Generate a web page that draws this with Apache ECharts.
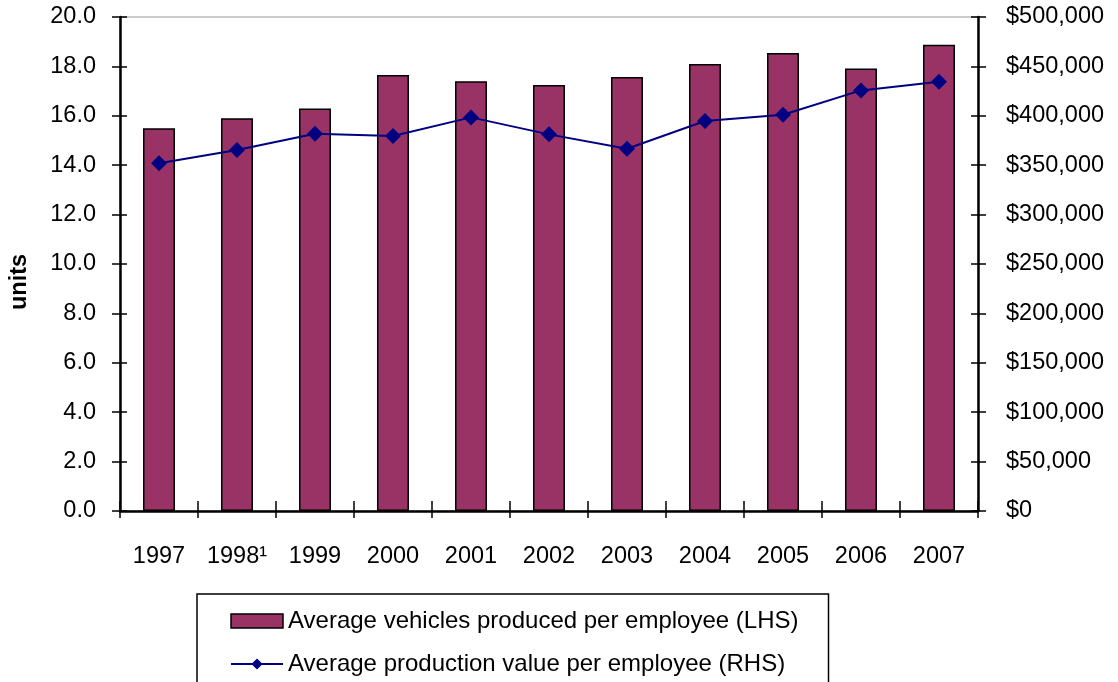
<!DOCTYPE html>
<html><head><meta charset="utf-8">
<script src="https://cdn.jsdelivr.net/npm/echarts@6/dist/echarts.min.js"></script>
<style>html,body{margin:0;padding:0;background:#fff}#c{width:1118px;height:682px}</style>
</head><body><div id="c"></div>
<script>
const categories = ['1997','1998\u00b9','1999','2000','2001','2002','2003','2004','2005','2006','2007'];
const vehiclesPerEmployee = [15.5, 15.9, 16.3, 17.65, 17.4, 17.25, 17.57, 18.1, 18.54, 17.92, 18.88];
const valuePerEmployee = [352000, 365400, 381800, 379500, 398400, 381200, 366700, 394700, 401100, 425700, 434500];
const leftTicks = {min: 0, max: 20, interval: 2};
const rightTicks = {min: 0, max: 500000, interval: 50000};

const chart = echarts.init(document.getElementById('c'));
const font = 'Liberation Sans, Arial, sans-serif';
const FS = 23.5;
const tickStyle = {color: '#000', width: 1.5};
chart.setOption({
  animation: false,
  textStyle: {fontFamily: font},
  grid: {left: 120, right: 140, top: 17, bottom: 171, show: true, borderColor: '#999', borderWidth: 1,
    containLabel: false, outerBoundsMode: 'none'},
  legend: {
    orient: 'vertical', left: 197, top: 594, height: 200,
    padding: [15, 30, 40, 33], itemGap: 19,
    borderColor: '#000', borderWidth: 1.5,
    itemWidth: 52, itemHeight: 14,
    textStyle: {fontSize: 24, color: '#000', fontFamily: font},
    data: [
      {name: 'Average vehicles produced per employee (LHS)', icon: 'rect', itemStyle: {borderColor: '#000', borderWidth: 1.5}},
      {name: 'Average production value per employee (RHS)'}
    ]
  },
  xAxis: [
    {
      type: 'category', data: categories, boundaryGap: true,
      axisLine: {lineStyle: {color: '#000', width: 2.5}},
      axisTick: {show: true, length: 7, lineStyle: tickStyle},
      axisLabel: {color: '#000', fontSize: FS, margin: 34, fontFamily: font, interval: 0, hideOverlap: false}
    },
    {
      type: 'category', data: categories, boundaryGap: true, position: 'bottom',
      axisLine: {show: false},
      axisTick: {show: true, inside: true, length: 10, lineStyle: tickStyle},
      axisLabel: {show: false}
    }
  ],
  yAxis: [
    {
      type: 'value', min: leftTicks.min, max: leftTicks.max, interval: leftTicks.interval,
      name: 'units', nameLocation: 'middle', nameGap: 88, nameRotate: 90,
      nameTextStyle: {fontWeight: 'bold', fontSize: FS, color: '#000', fontFamily: font, padding: [0, 36, 0, 0]},
      axisLine: {show: true, lineStyle: {color: '#000', width: 2.5}},
      axisTick: {show: true, length: 8, lineStyle: tickStyle},
      splitLine: {show: false},
      axisLabel: {color: '#000', fontSize: FS, margin: 24, fontFamily: font, formatter: v => v.toFixed(1)}
    },
    {
      type: 'value', position: 'right', min: rightTicks.min, max: rightTicks.max, interval: rightTicks.interval,
      axisLine: {show: true, lineStyle: {color: '#000', width: 2.5}},
      axisTick: {show: true, length: 8, lineStyle: tickStyle},
      splitLine: {show: false},
      axisLabel: {color: '#000', fontSize: FS, margin: 28, fontFamily: font,
        formatter: v => '$' + v.toLocaleString('en-US')}
    },
    {
      type: 'value', position: 'left', min: leftTicks.min, max: leftTicks.max, interval: leftTicks.interval,
      axisLine: {show: false}, splitLine: {show: false}, axisLabel: {show: false},
      axisTick: {show: true, inside: true, length: 7, lineStyle: tickStyle}
    },
    {
      type: 'value', position: 'right', min: rightTicks.min, max: rightTicks.max, interval: rightTicks.interval,
      axisLine: {show: false}, splitLine: {show: false}, axisLabel: {show: false},
      axisTick: {show: true, inside: true, length: 7, lineStyle: tickStyle}
    }
  ],
  series: [
    {
      name: 'Average vehicles produced per employee (LHS)', type: 'bar', yAxisIndex: 0,
      data: vehiclesPerEmployee, barWidth: '41%',
      itemStyle: {color: '#993366', borderColor: '#000', borderWidth: 1.5}
    },
    {
      name: 'Average production value per employee (RHS)', type: 'line', yAxisIndex: 1,
      data: valuePerEmployee, symbol: 'diamond', symbolSize: 16,
      lineStyle: {color: '#000080', width: 2},
      itemStyle: {color: '#000080'}
    }
  ]
});
</script></body></html>
